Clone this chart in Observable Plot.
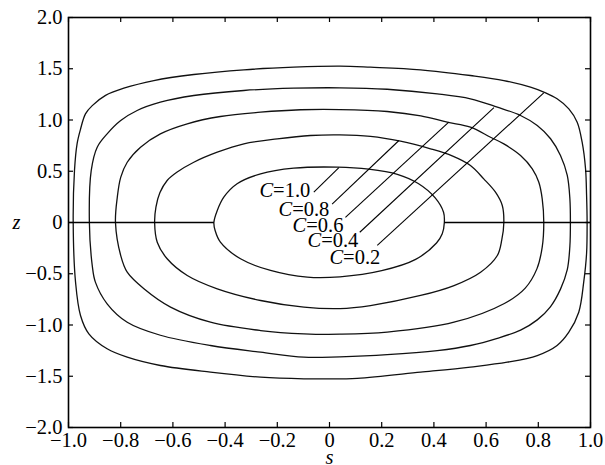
<!DOCTYPE html>
<html><head><meta charset="utf-8">
<script src="https://cdn.jsdelivr.net/npm/d3@7"></script>
<script src="https://cdn.jsdelivr.net/npm/@observablehq/plot@0.6"></script>
<style>body{margin:0;background:#fff} svg{display:block}</style>
</head><body><div id="chart"></div>
<script>
const xTicks = [-1.0,-0.8,-0.6,-0.4,-0.2,0,0.2,0.4,0.6,0.8,1.0];
const yTicks = [-2.0,-1.5,-1.0,-0.5,0,0.5,1.0,1.5,2.0];
const levels = ["1.0","0.8","0.6","0.4","0.2"];

const curveC10 = [[-0.443,0],[-0.43,0.117],[-0.405,0.247],[-0.354,0.378],[-0.264,0.475],[-0.137,0.53],[0.03,0.54],[0.15,0.52],[0.26,0.47],[0.34,0.38],[0.405,0.24],[0.437,0.1],[0.44,0],[0.432,-0.11],[0.41,-0.2],[0.33,-0.36],[0.2,-0.47],[0.04,-0.53],[-0.085,-0.533],[-0.226,-0.468],[-0.341,-0.354],[-0.418,-0.192],[-0.438,-0.08]];
const curveC08 = [[-0.67,0],[-0.665,0.15],[-0.65,0.29],[-0.622,0.41],[-0.585,0.49],[-0.52,0.588],[-0.43,0.686],[-0.328,0.768],[-0.2,0.816],[-0.073,0.849],[0.04,0.855],[0.157,0.84],[0.272,0.793],[0.387,0.719],[0.47,0.65],[0.54,0.556],[0.591,0.426],[0.636,0.296],[0.662,0.166],[0.668,0],[0.66,-0.17],[0.643,-0.322],[0.579,-0.485],[0.477,-0.615],[0.349,-0.712],[0.157,-0.81],[0.04,-0.84],[-0.098,-0.826],[-0.264,-0.761],[-0.43,-0.647],[-0.545,-0.517],[-0.622,-0.354],[-0.66,-0.192]];
const curveC06 = [[-0.82,0],[-0.813,0.247],[-0.8,0.44],[-0.775,0.588],[-0.724,0.735],[-0.648,0.865],[-0.545,0.963],[-0.418,1.034],[-0.264,1.076],[-0.111,1.1],[0.04,1.102],[0.221,1.083],[0.35,1.04],[0.451,0.979],[0.54,0.93],[0.617,0.832],[0.668,0.767],[0.732,0.654],[0.777,0.524],[0.802,0.393],[0.815,0.231],[0.821,0],[0.815,-0.24],[0.795,-0.45],[0.75,-0.64],[0.67,-0.79],[0.477,-0.973],[0.221,-1.07],[0.04,-1.09],[-0.098,-1.086],[-0.264,-1.054],[-0.456,-0.973],[-0.609,-0.826],[-0.711,-0.647],[-0.775,-0.485],[-0.8,-0.322]];
const curveC04 = [[-0.92,0],[-0.913,0.507],[-0.89,0.735],[-0.852,0.865],[-0.8,0.995],[-0.737,1.093],[-0.648,1.174],[-0.52,1.239],[-0.328,1.288],[-0.137,1.31],[0.04,1.314],[0.221,1.3],[0.413,1.255],[0.54,1.207],[0.643,1.125],[0.732,1.044],[0.796,0.946],[0.847,0.817],[0.885,0.654],[0.911,0.459],[0.921,0.231],[0.923,0],[0.921,-0.23],[0.911,-0.46],[0.885,-0.65],[0.847,-0.82],[0.796,-0.95],[0.732,-1.05],[0.643,-1.13],[0.54,-1.2],[0.413,-1.25],[0.221,-1.29],[0.04,-1.31],[-0.098,-1.314],[-0.264,-1.265],[-0.456,-1.2],[-0.648,-1.1],[-0.775,-0.973],[-0.852,-0.793],[-0.897,-0.582],[-0.909,-0.42]];
const curveC02 = [[-0.982,0],[-0.977,0.51],[-0.967,0.77],[-0.954,0.91],[-0.935,1.06],[-0.909,1.14],[-0.858,1.24],[-0.788,1.31],[-0.673,1.385],[-0.52,1.444],[-0.328,1.49],[-0.137,1.515],[0.04,1.525],[0.157,1.515],[0.349,1.49],[0.54,1.434],[0.668,1.385],[0.77,1.32],[0.828,1.265],[0.872,1.207],[0.917,1.109],[0.949,0.979],[0.968,0.783],[0.981,0.524],[0.985,0.263],[0.987,0],[0.985,-0.3],[0.974,-0.582],[0.955,-0.875],[0.917,-1.07],[0.872,-1.2],[0.796,-1.298],[0.681,-1.363],[0.54,-1.41],[0.349,-1.46],[0.106,-1.52],[-0.034,-1.525],[-0.098,-1.525],[-0.264,-1.509],[-0.456,-1.46],[-0.648,-1.395],[-0.775,-1.314],[-0.852,-1.232],[-0.922,-1.086],[-0.954,-0.907],[-0.973,-0.582]];

// leader lines: label end -> curve
const leaderStartX = [-0.06,0.01,0.061,0.116,0.183];
const leaderStartY = [0.296,0.18,0.05,-0.095,-0.224];
const leaderEndX = [0.036,0.266,0.457,0.63,0.821];
const leaderEndY = [0.535,0.80,0.979,1.12,1.265];
// label anchor (between "C" and "=")
const labelX = [-0.216,-0.143,-0.089,-0.032,0.052];
const labelY = [0.312,0.127,-0.029,-0.176,-0.337];
// axis line segments (z = 0), interrupted inside the C=1.0 curve
const zeroX1 = [-1.0,0.44];
const zeroX2 = [-0.443,1.0];

const curves = [curveC10,curveC08,curveC06,curveC04,curveC02];
const rows = curves.flatMap((pts,i)=>pts.map(([x,y])=>({x,y,c:levels[i]})));
const leaders = levels.map((l,i)=>({x1:leaderStartX[i],y1:leaderStartY[i],x2:leaderEndX[i],y2:leaderEndY[i]}));
const labels = levels.map((l,i)=>({x:labelX[i],y:labelY[i],t:"="+l}));
const zeroSeg = zeroX1.map((a,i)=>({x1:a,x2:zeroX2[i]}));

const fmt = d => d===0 ? "0" : d.toFixed(1).replace("-","\u2212");
const W=605,H=465,mL=68,mR=15,mT=17,mB=38;
const pw=W-mL-mR, ph=H-mT-mB, tk=5;

const plot = Plot.plot({
  width: W, height: H,
  marginLeft: mL, marginRight: mR, marginTop: mT, marginBottom: mB,
  style: "font-family: 'Liberation Serif', serif; font-size: 20px; background: #fff; color: #000;",
  x: {domain: [-1,1]},
  y: {domain: [-2,2]},
  marks: [
    Plot.line(rows, {x:"x", y:"y", z:"c", stroke:"#111", strokeWidth:1.3, curve:"catmull-rom-closed"}),
    Plot.link(zeroSeg, {x1:"x1", x2:"x2", y1:0, y2:0, stroke:"#000", strokeWidth:1.6}),
    Plot.link(leaders, {x1:"x1", y1:"y1", x2:"x2", y2:"y2", stroke:"#000", strokeWidth:1.1}),
    Plot.text(labels, {x:"x", y:"y", text:()=>"C", textAnchor:"end", fontStyle:"italic", fontSize:20.5}),
    Plot.text(labels, {x:"x", y:"y", text:"t", textAnchor:"start", fontSize:20.5}),
    Plot.axisX(xTicks, {tickSize:0, tickPadding:5, tickFormat:fmt, fontSize:20.5}),
    Plot.axisY(yTicks, {tickSize:0, tickPadding:6, tickFormat:fmt, fontSize:20.5}),
    Plot.tickX(xTicks, {x:d=>d, insetTop: ph-tk, stroke:"#000", strokeWidth:1.2}),
    Plot.tickX(xTicks, {x:d=>d, insetBottom: ph-tk, stroke:"#000", strokeWidth:1.2}),
    Plot.tickY(yTicks, {y:d=>d, insetRight: pw-tk, stroke:"#000", strokeWidth:1.2}),
    Plot.tickY(yTicks, {y:d=>d, insetLeft: pw-tk, stroke:"#000", strokeWidth:1.2}),
    Plot.frame({stroke:"#000", strokeWidth:1.6}),
    Plot.text(["z"], {frameAnchor:"left", dx:-56, fontStyle:"italic", fontSize:20.5}),
    Plot.text(["s"], {frameAnchor:"bottom", dy:36, fontStyle:"italic", fontSize:20.5})
  ]
});
document.getElementById("chart").appendChild(plot);
</script>
</body></html>
